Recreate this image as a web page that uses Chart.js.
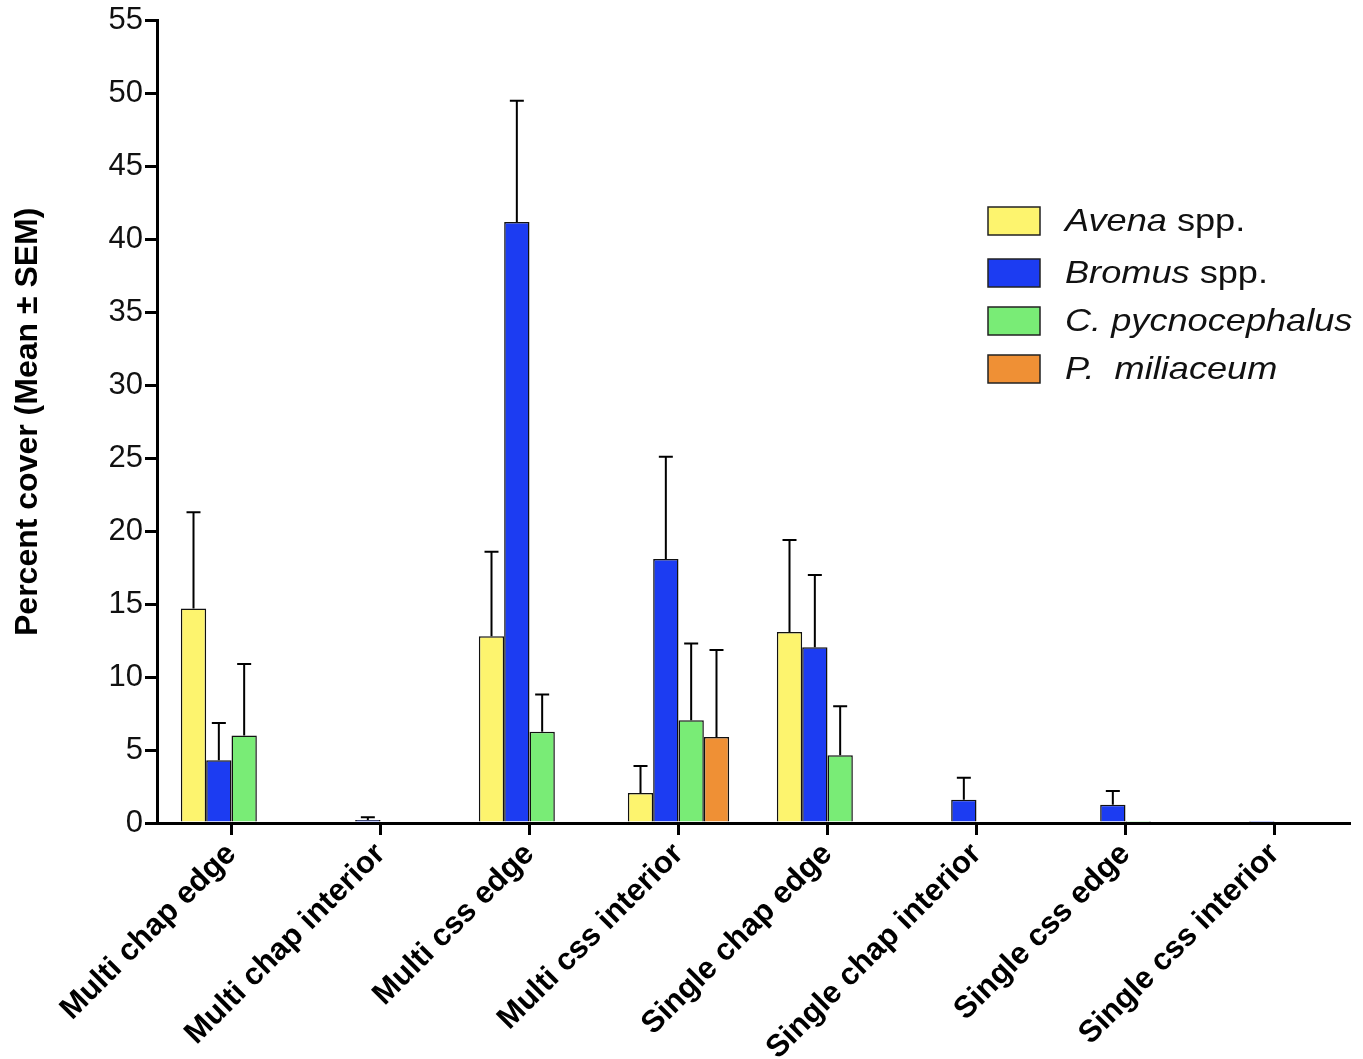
<!DOCTYPE html>
<html>
<head>
<meta charset="utf-8">
<script src="https://cdn.jsdelivr.net/npm/chart.js@4"></script>
<style>
    html, body { margin: 0; padding: 0; background: #fff; }
    #wrap { width: 1363px; height: 1059px; }
</style>
</head>
<body>
<div id="wrap"><canvas id="coverChart"></canvas></div>
<script>
// Categories and series (mean and SEM)
const categories = ['Multi chap edge', 'Multi chap interior', 'Multi css edge', 'Multi css interior',
    'Single chap edge', 'Single chap interior', 'Single css edge', 'Single css interior'];

const avenaMean  = [14.7, null, 12.8, 2.05, 13.1, null, null, null];
const avenaSem   = [6.6, null, 5.8, 1.85, 6.3, null, null, null];
const bromusMean = [4.3, 0.2, 41.2, 18.1, 12.05, 1.6, 1.25, 0.05];
const bromusSem  = [2.55, 0.2, 8.3, 7.0, 4.95, 1.5, 0.95, null];
const cpycMean   = [6.0, null, 6.25, 7.05, 4.65, null, 0.05, null];
const cpycSem    = [4.9, null, 2.55, 5.25, 3.35, null, null, null];
const pmilMean   = [null, null, 0.1, 5.9, null, null, null, null];
const pmilSem    = [null, null, null, 5.95, null, null, null, null];

const yTicks = [0, 5, 10, 15, 20, 25, 30, 35, 40, 45, 50, 55];

// Legend labels, split in italic / upright pieces
const legendLabels = [
    [{ t: 'Avena', i: true }, { t: ' spp.', i: false }],
    [{ t: 'Bromus', i: true }, { t: ' spp.', i: false }],
    [{ t: 'C. pycnocephalus', i: true }],
    [{ t: 'P.  miliaceum', i: true }]
];

const colors = ['#fdf46e', '#1c3cf2', '#79ec76', '#ef9035'];
const FONT = '"Liberation Sans", Arial, sans-serif';

// Upward error bars (mean + SEM)
const errorBarPlugin = {
    id: 'errorBars',
    afterDatasetsDraw(chart) {
        const ctx = chart.ctx;
        const yScale = chart.scales.y;
        ctx.save();
        ctx.strokeStyle = '#000';
        ctx.lineWidth = 2;
        chart.data.datasets.forEach((ds, i) => {
            const meta = chart.getDatasetMeta(i);
            meta.data.forEach((bar, j) => {
                const m = ds.data[j];
                const e = ds.sem[j];
                if (m == null || e == null) return;
                const yTop = yScale.getPixelForValue(m + e);
                ctx.beginPath();
                ctx.moveTo(bar.x, bar.y);
                ctx.lineTo(bar.x, yTop);
                ctx.moveTo(bar.x - 7, yTop);
                ctx.lineTo(bar.x + 7, yTop);
                ctx.stroke();
            });
        });
        ctx.restore();
    }
};

// Legend drawn inside the plot with mixed italic text
const insideLegendPlugin = {
    id: 'insideLegend',
    afterDraw(chart) {
        const ctx = chart.ctx;
        const boxX = 988, boxW = 52, boxH = 28;
        const rowY = [221, 273, 321, 369];
        const textX = 1065;
        ctx.save();
        legendLabels.forEach((parts, k) => {
            ctx.fillStyle = colors[k];
            ctx.fillRect(boxX, rowY[k] - boxH / 2, boxW, boxH);
            ctx.strokeStyle = '#222';
            ctx.lineWidth = 1.5;
            ctx.strokeRect(boxX, rowY[k] - boxH / 2, boxW, boxH);

            ctx.save();
            ctx.translate(textX, rowY[k] + 1);
            ctx.scale(1.13, 1);
            ctx.fillStyle = '#111';
            ctx.textBaseline = 'middle';
            let x = 0;
            parts.forEach(p => {
                ctx.font = (p.i ? 'italic ' : '') + '32px ' + FONT;
                ctx.fillText(p.t, x, 0);
                x += ctx.measureText(p.t).width;
            });
            ctx.restore();
        });
        ctx.restore();
    }
};

function makeDataset(label, mean, sem, color) {
    return {
        label: label,
        data: mean,
        sem: sem,
        backgroundColor: color,
        borderColor: '#111',
        borderWidth: 1.5,
        borderSkipped: 'bottom',
        categoryPercentage: 0.68,
        barPercentage: 1.0
    };
}

function initCoverChart() {
    const ctx = document.getElementById('coverChart');
    new Chart(ctx, {
        type: 'bar',
        data: {
            labels: categories,
            datasets: [
                makeDataset('Avena spp.', avenaMean, avenaSem, colors[0]),
                makeDataset('Bromus spp.', bromusMean, bromusSem, colors[1]),
                makeDataset('C. pycnocephalus', cpycMean, cpycSem, colors[2]),
                makeDataset('P. miliaceum', pmilMean, pmilSem, colors[3])
            ]
        },
        options: {
            responsive: true,
            maintainAspectRatio: false,
            animation: false,
            layout: { padding: { top: 2, right: 14, left: 0, bottom: 0 } },
            plugins: {
                legend: { display: false },
                tooltip: { enabled: false }
            },
            scales: {
                x: {
                    afterFit: s => { s.height = 236; },
                    border: { display: true, color: '#000', width: 3 },
                    grid: { display: true, drawOnChartArea: false, offset: false, color: '#000', lineWidth: 3, tickLength: 12 },
                    ticks: {
                        color: '#000',
                        minRotation: 45,
                        maxRotation: 45,
                        padding: 1,
                        font: { family: FONT, size: 31, weight: 'bold' }
                    }
                },
                y: {
                    min: 0,
                    max: 55,
                    afterFit: s => { s.width = 157; },
                    afterBuildTicks: s => { s.ticks = yTicks.map(v => ({ value: v })); },
                    border: { display: true, color: '#000', width: 3 },
                    grid: { display: true, drawOnChartArea: false, color: '#000', lineWidth: 3, tickLength: 12 },
                    ticks: {
                        color: '#111',
                        padding: 2,
                        font: { family: FONT, size: 31 }
                    },
                    title: {
                        display: true,
                        text: 'Percent cover (Mean ± SEM)',
                        color: '#000',
                        padding: { top: 9, bottom: 0 },
                        font: { family: FONT, size: 32, weight: 'bold' }
                    }
                }
            }
        },
        plugins: [errorBarPlugin, insideLegendPlugin]
    });
}

document.addEventListener('DOMContentLoaded', initCoverChart);
</script>
</body>
</html>
